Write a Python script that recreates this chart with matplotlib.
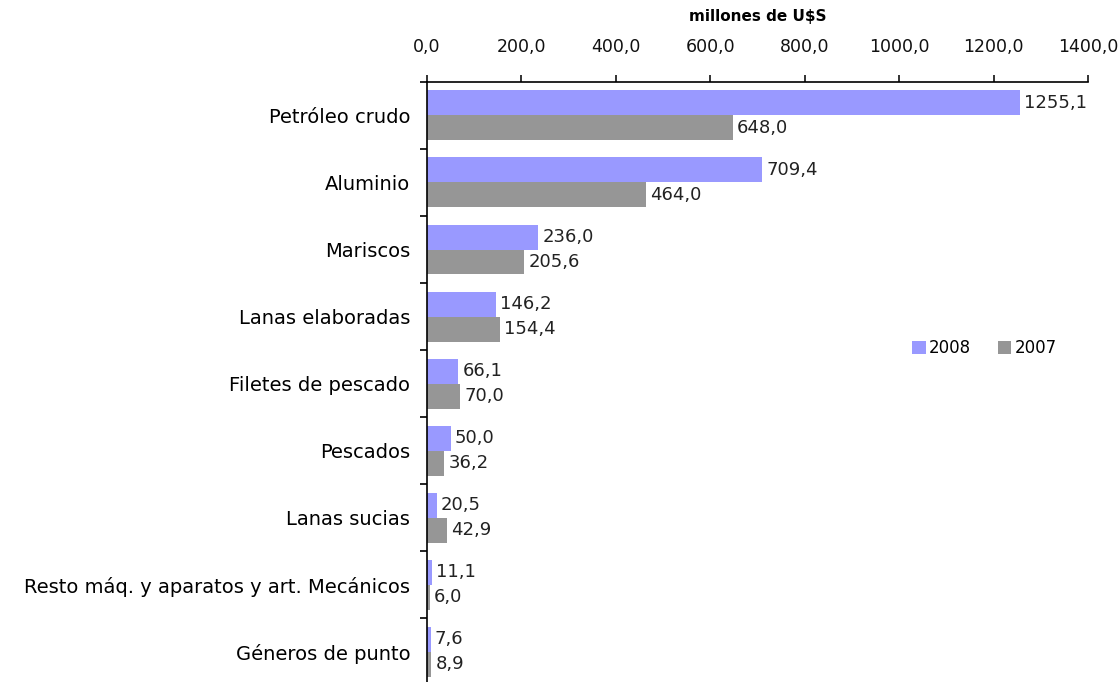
import matplotlib
matplotlib.use('Agg')
import matplotlib.pyplot as plt
import numpy as np
from matplotlib.ticker import FuncFormatter, FixedLocator

plt.rcParams['font.family'] = ['DejaVu Sans']

categorias = ['Petróleo crudo', 'Aluminio', 'Mariscos', 'Lanas elaboradas',
              'Filetes de pescado', 'Pescados', 'Lanas sucias',
              'Resto máq. y aparatos y art. Mecánicos', 'Géneros de punto']
v2008 = [1255.1, 709.4, 236.0, 146.2, 66.1, 50.0, 20.5, 11.1, 7.6]
v2007 = [648.0, 464.0, 205.6, 154.4, 70.0, 36.2, 42.9, 6.0, 8.9]

col08 = '#9999FF'
col07 = '#969696'

fig = plt.figure(figsize=(11.19, 6.82), dpi=100)
ax = fig.add_axes([427 / 1119, -0.0045, (1088 - 427) / 1119, 0.8843])

ind = np.arange(len(categorias))
h = 0.373
b1 = ax.barh(ind - h / 2, v2008, height=h, color=col08, label='2008')
b2 = ax.barh(ind + h / 2, v2007, height=h, color=col07, label='2007')

def fmt(v):
    return f'{v:.1f}'.replace('.', ',')

for rects, vals in ((b1, v2008), (b2, v2007)):
    for r, v in zip(rects, vals):
        ax.annotate(fmt(v), (r.get_width(), r.get_y() + r.get_height() / 2),
                    xytext=(3, 0), textcoords='offset points',
                    ha='left', va='center', fontsize=13, color='#222222')

ax.set_xlim(0, 1400)
ax.set_ylim(len(categorias) - 0.5, -0.5)
ax.xaxis.tick_top()
ax.xaxis.set_label_position('top')
ax.set_xticks(np.arange(0, 1401, 200))
ax.xaxis.set_major_formatter(FuncFormatter(lambda x, p: fmt(x)))
ax.set_xlabel('millones de U$S', fontsize=11, fontweight='bold', labelpad=12)
ax.tick_params(axis='x', direction='out', length=5, width=1.2, labelsize=12.5,
               pad=14, colors='#111111')

ax.set_yticks(ind)
ax.set_yticklabels(categorias)
ax.yaxis.set_minor_locator(FixedLocator(np.arange(-0.5, len(categorias), 1)))
ax.tick_params(axis='y', which='major', length=0, labelsize=14, pad=12)
ax.tick_params(axis='y', which='minor', direction='out', length=5, width=1.2)

for s in ('right', 'bottom'):
    ax.spines[s].set_visible(False)
for s in ('left', 'top'):
    ax.spines[s].set_linewidth(1.2)

ax.legend(loc='center left', bbox_to_anchor=(0.734, 0.559), ncol=2, frameon=False,
          fontsize=12, handlelength=0.8, handleheight=0.8, handletextpad=0.2,
          columnspacing=1.6, borderpad=0, borderaxespad=0)

fig.savefig('out.png', dpi=100)
